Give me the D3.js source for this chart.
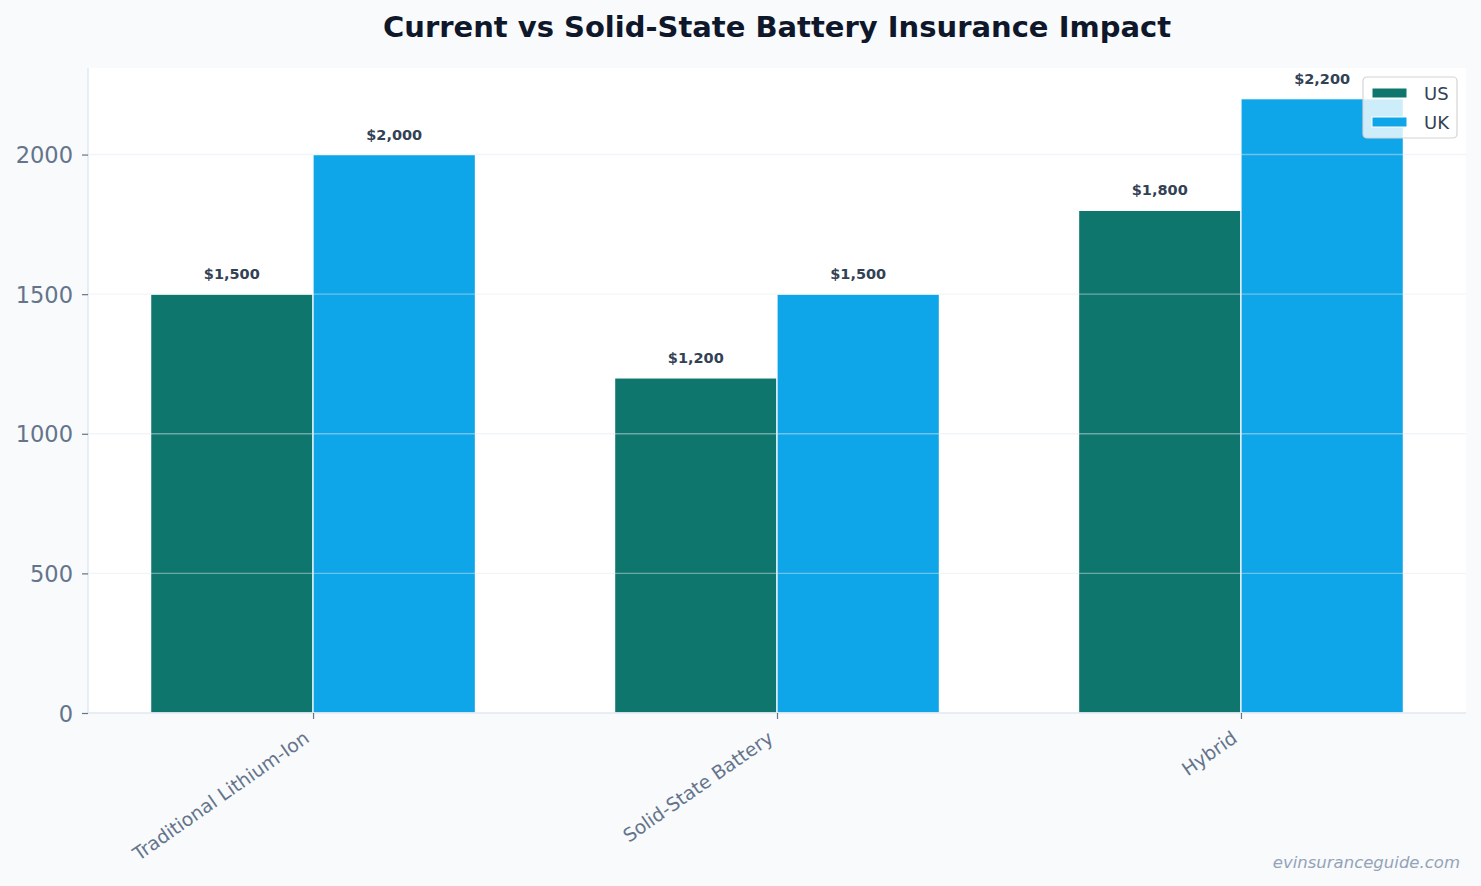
<!DOCTYPE html>
<html>
<head>
<meta charset="utf-8">
<script src="https://cdn.jsdelivr.net/npm/d3@7"></script>
<style>
  html, body { margin: 0; padding: 0; background: #f8fafc; }
  svg { display: block; font-family: "DejaVu Sans", sans-serif; }
</style>
</head>
<body>
<svg id="chart" width="1481" height="886"></svg>
<script>
const categories = ["Traditional Lithium-Ion", "Solid-State Battery", "Hybrid"];
const seriesNames = ["US", "UK"];
const usValues = [1500, 1200, 1800];
const ukValues = [2000, 1500, 2200];
const yTicks = [0, 500, 1000, 1500, 2000];
const titleText = "Current vs Solid-State Battery Insurance Impact";
const watermarkText = "evinsuranceguide.com";

const colors = { US: "#0f766e", UK: "#0ea5e9" };
const W = 1481, H = 886;
const m = { left: 88, right: 1466, top: 68, bottom: 713 };
const barW = 0.35;

const svg = d3.select("#chart");
svg.append("rect").attr("width", W).attr("height", H).attr("fill", "#f8fafc");
svg.append("rect").attr("x", m.left).attr("y", m.top)
  .attr("width", m.right - m.left).attr("height", m.bottom - m.top).attr("fill", "#ffffff");

const x = d3.scaleLinear().domain([-0.485, categories.length - 1 + 0.485]).range([m.left, m.right]);
const y = d3.scaleLinear().domain([0, 2310]).range([m.bottom, m.top]);

const series = [
  { name: "US", values: usValues, off: -barW },
  { name: "UK", values: ukValues, off: 0 }
];

// bars
series.forEach(s => {
  svg.append("g").selectAll("rect").data(s.values).join("rect")
    .attr("x", (d, i) => x(i + s.off))
    .attr("y", d => y(d))
    .attr("width", (d, i) => x(i + s.off + barW) - x(i + s.off))
    .attr("height", d => y(0) - y(d))
    .attr("fill", colors[s.name])
    .attr("stroke", "#ffffff").attr("stroke-width", 1.2);
});

// grid (above bars)
svg.append("g").selectAll("line").data(yTicks.filter(t => t > 0)).join("line")
  .attr("x1", m.left).attr("x2", m.right)
  .attr("y1", d => y(d)).attr("y2", d => y(d))
  .attr("stroke", "#e2e8f0").attr("stroke-opacity", 0.45).attr("stroke-width", 1.4);

// value labels
series.forEach(s => {
  svg.append("g").selectAll("text").data(s.values).join("text")
    .attr("x", (d, i) => x(i + s.off + barW / 2))
    .attr("y", d => y(d) - 15)
    .attr("text-anchor", "middle")
    .attr("font-size", 14.5).attr("font-weight", "bold").attr("fill", "#334155")
    .text(d => "$" + d3.format(",")(d));
});

// spines
svg.append("line").attr("x1", m.left).attr("x2", m.left).attr("y1", m.top).attr("y2", m.bottom)
  .attr("stroke", "#e2e8f0").attr("stroke-width", 1.5);
svg.append("line").attr("x1", m.left).attr("x2", m.right).attr("y1", m.bottom).attr("y2", m.bottom)
  .attr("stroke", "#e2e8f0").attr("stroke-width", 1.5);

// y axis
const yAxis = d3.axisLeft(y).tickValues(yTicks).tickSize(6).tickPadding(9).tickFormat(d3.format("d"));
const gy = svg.append("g").attr("transform", `translate(${m.left},0)`).call(yAxis);
gy.select(".domain").remove();
gy.selectAll(".tick line").attr("stroke", "#64748b").attr("stroke-width", 1.2);
gy.selectAll(".tick text").attr("fill", "#64748b").attr("font-size", 22.5)
  .attr("font-family", "DejaVu Sans, sans-serif").attr("dy", "0.36em");

// x axis
const xBand = d3.scalePoint().domain(categories).range([x(0), x(categories.length - 1)]);
const xAxis = d3.axisBottom(xBand).tickSize(6).tickPadding(0);
const gx = svg.append("g").attr("transform", `translate(0,${m.bottom})`).call(xAxis);
gx.select(".domain").remove();
gx.selectAll(".tick line").attr("stroke", "#64748b").attr("stroke-width", 1.2);
gx.selectAll(".tick text")
  .attr("fill", "#64748b").attr("font-size", 18.8).attr("font-family", "DejaVu Sans, sans-serif")
  .attr("text-anchor", "end").attr("dy", null).attr("y", 0)
  .attr("transform", "translate(-3,28) rotate(-35)");

// title
svg.append("text").attr("x", (m.left + m.right) / 2).attr("y", 37)
  .attr("text-anchor", "middle").attr("font-size", 29).attr("font-weight", "bold")
  .attr("fill", "#0f172a").text(titleText);

// legend
const lg = svg.append("g").attr("transform", "translate(1363,77)");
lg.append("rect").attr("width", 94).attr("height", 61).attr("rx", 4)
  .attr("fill", "#ffffff").attr("fill-opacity", 0.8)
  .attr("stroke", "#d4d4d4").attr("stroke-width", 1.2);
seriesNames.forEach((n, i) => {
  lg.append("rect").attr("x", 9).attr("y", 11 + i * 29).attr("width", 35).attr("height", 10)
    .attr("fill", colors[n]).attr("stroke", "#ffffff").attr("stroke-width", 1);
  lg.append("text").attr("x", 61).attr("y", 23 + i * 29)
    .attr("font-size", 18).attr("fill", "#334155").text(n);
});

// watermark
svg.append("text").attr("x", 1460).attr("y", 868).attr("text-anchor", "end")
  .attr("font-size", 16.5).attr("font-style", "italic").attr("fill", "#94a3b8")
  .text(watermarkText);
</script>
</body>
</html>
